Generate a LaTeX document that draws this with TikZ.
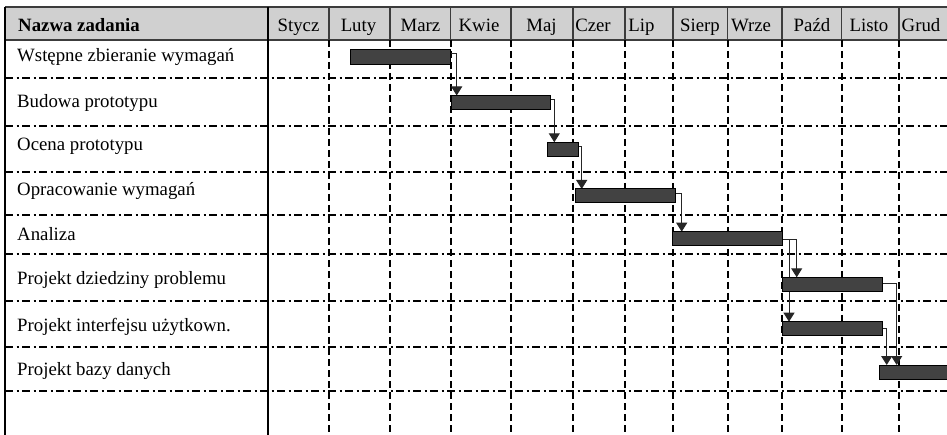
\documentclass[tikz,border=0pt]{standalone}
\usepackage{fontspec}
\setmainfont{Liberation Serif}
\usetikzlibrary{arrows.meta}
\definecolor{hdrfill}{RGB}{208,208,208}
\definecolor{hdrline}{RGB}{60,60,60}
\definecolor{barfill}{RGB}{66,66,66}
\pgfdeclarelayer{grid}
\pgfdeclarelayer{links}
\pgfsetlayers{grid,links,main}

\begin{document}
\begin{tikzpicture}[x=1pt,y=-1pt,
  font=\fontsize{18.8}{21}\selectfont,
  bar/.style={draw=black,line width=1pt,fill=barfill,inner sep=0pt,outer sep=0pt,
              anchor=north west,minimum height=14pt},
  task/.style={anchor=base west,inner sep=0pt},
  month/.style={anchor=base,inner sep=0pt},
  link/.style={draw=black!85,line width=1pt,-{Triangle[width=11pt,length=9pt]}},
  rowline/.style={line width=1.8pt,dash pattern=on 8pt off 3.5pt on 2pt off 3.5pt},
  colline/.style={line width=1.8pt,dash pattern=on 7pt off 4pt},
  frame/.style={line width=1.4pt},
  hdrrule/.style={line width=1.3pt,draw=hdrline}]

\useasboundingbox (0,0) rectangle (947,435);
\clip (0,0) rectangle (947,435);

% ---- table grid ----
\begin{pgfonlayer}{grid}
  \fill[hdrfill] (5,7) rectangle (960,40);
  \draw[hdrrule] (5,7) -- (960,7);
  \draw[hdrrule] (5,40) -- (960,40);
  \foreach \x in {329,390,450.7,511,573,625,673,727.7,782,841.7,899}
    \draw[hdrrule] (\x,7) -- (\x,40);
  \foreach \x in {329,390,450.7,511,573,625,673,727.7,782,841.7,899}
    \draw[colline] (\x,40) -- (\x,435);
  \foreach \y in {78,126,172,215,254,301,347,391}
    \draw[rowline] (5,\y) -- (960,\y);
  \draw[frame] (5,7) -- (5,435);
  \draw[frame] (268,7) -- (268,435);
\end{pgfonlayer}

% ---- header ----
\node[task,font=\fontsize{18.8}{21}\selectfont\bfseries] (hname) at (18,32) {Nazwa zadania};
\node[month] (m1)  at (298.5,32) {Stycz};
\node[month] (m2)  at (358.5,32) {Luty};
\node[month] (m3)  at (420.5,32) {Marz};
\node[month] (m4)  at (479,32)   {Kwie};
\node[month] (m5)  at (541.5,32) {Maj};
\node[month] (m6)  at (593,32)   {Czer};
\node[month] (m7)  at (641.5,32) {Lip};
\node[month] (m8)  at (700,32)   {Sierp};
\node[month] (m9)  at (751,32)   {Wrze};
\node[month] (m10) at (812,32)   {Paźd};
\node[month] (m11) at (869,32)   {Listo};
\node[month] (m12) at (921,32)   {Grud};

% ---- task names ----
\node[task] (t1) at (17,62)  {Wstępne zbieranie wymagań};
\node[task] (t2) at (17,108) {Budowa prototypu};
\node[task] (t3) at (17,151) {Ocena prototypu};
\node[task] (t4) at (17,196) {Opracowanie wymagań};
\node[task] (t5) at (17,241) {Analiza};
\node[task] (t6) at (17,285) {Projekt dziedziny problemu};
\node[task] (t7) at (17,331) {Projekt interfejsu użytkown.};
\node[task] (t8) at (17,375) {Projekt bazy danych};

% ---- task bars ----
\node[bar,minimum width=100pt,minimum height=15pt] (b1) at (350.7,50) {};
\node[bar,minimum width=99.7pt] (b2) at (451,95.5) {};
\node[bar,minimum width=31pt]   (b3) at (547.3,142.3) {};
\node[bar,minimum width=99.3pt] (b4) at (575.7,189) {};
\node[bar,minimum width=110pt]  (b5) at (672.7,231.7) {};
\node[bar,minimum width=99.6pt] (b6) at (782.7,277.3) {};
\node[bar,minimum width=99.6pt] (b7) at (782.7,321.7) {};
\node[bar,minimum width=90pt]   (b8) at (879,365) {};

% ---- dependencies ----
\begin{pgfonlayer}{links}
  \draw[link] ([yshift=-3.5pt]b1.north east) -- ++(6,0) coordinate (c12) -- (c12 |- b2.north);
  \draw[link] ([yshift=-3.8pt]b2.north east) -- ++(3.6,0) coordinate (c23) -- (c23 |- b3.north);
  \draw[link] ([yshift=-4.4pt]b3.north east) -- ++(3.4,0) coordinate (c34) -- (c34 |- b4.north);
  \draw[link] ([yshift=-5pt]b4.north east) -- ++(6.7,0) coordinate (c45) -- (c45 |- b5.north);
  \draw[link] ([yshift=-7.5pt]b5.north east) -- ++(14,0) coordinate (c56) -- (c56 |- b6.north);
  \draw[link] ([yshift=-7.5pt]b5.north east) -- ++(6.3,0) coordinate (c57) -- (c57 |- b7.north);
  \draw[link] ([yshift=-6.5pt]b6.north east) -- ++(14.4,0) coordinate (c68) -- (c68 |- b8.north);
  \draw[link] ([yshift=-6.5pt]b7.north east) -- ++(4.4,0) coordinate (c78) -- (c78 |- b8.north);
\end{pgfonlayer}

\end{tikzpicture}
\end{document}
